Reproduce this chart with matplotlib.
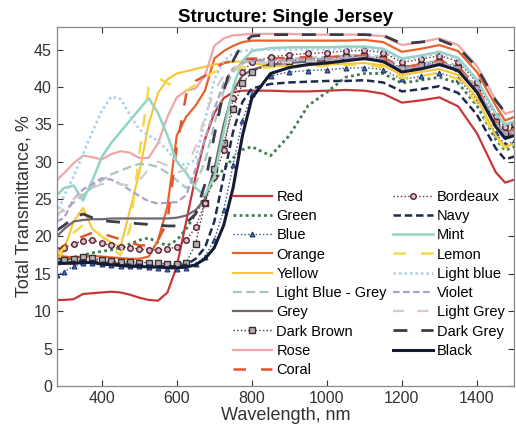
import matplotlib
matplotlib.use('Agg')
from matplotlib import pyplot as plt

plt.rcParams['font.family'] = ['Liberation Sans', 'DejaVu Sans']

# wavelength grid (nm) the curves were read at
wavelength = [280, 300, 325, 350, 375, 400, 425, 450, 475, 500, 525, 550, 575, 600,
              625, 650, 675, 700, 725, 750, 775, 800, 850, 900, 950, 1000, 1050,
              1100, 1150, 1200, 1250, 1300, 1350, 1400, 1450, 1475, 1500]

red = [11.5, 11.5, 11.6, 12.3, 12.4, 12.5, 12.6, 12.5, 12.2, 11.8, 11.5, 11.4, 12.5, 16.0,
       22.0, 28.0, 33.0, 36.5, 38.5, 39.3, 39.5, 39.5, 39.5, 39.4, 39.4, 39.5, 39.6,
       39.5, 39.1, 37.9, 38.2, 38.6, 37.4, 33.8, 28.6, 27.2, 27.6]
green = [16.5, 16.8, 17.2, 17.5, 17.8, 18.0, 18.2, 18.5, 19.0, 19.5, 19.8, 19.2, 18.8, 19.5,
         21.0, 23.0, 25.5, 27.5, 29.0, 30.5, 31.6, 32.0, 30.8, 33.5, 37.5, 39.3, 41.3,
         41.8, 41.8, 40.5, 40.9, 41.3, 40.5, 37.5, 33.0, 31.5, 32.0]
blue = [14.8, 15.3, 16.0, 16.4, 16.5, 16.3, 16.2, 16.1, 16.0, 16.0, 15.9, 15.8, 15.7, 15.7,
        15.8, 16.3, 17.3, 19.5, 23.5, 29.5, 35.5, 39.0, 41.5, 42.0, 42.2, 42.3, 42.5,
        42.6, 42.3, 41.0, 41.4, 41.9, 41.1, 38.3, 33.8, 32.3, 32.7]
orange = [17.5, 17.3, 17.2, 17.3, 17.4, 17.3, 17.2, 17.1, 17.0, 17.0, 17.3, 19.5, 24.0, 33.5,
          36.0, 37.5, 39.5, 43.8, 44.8, 45.5, 46.0, 46.2, 46.2, 46.2, 46.2, 46.2, 46.2,
          46.3, 46.0, 44.7, 45.1, 45.6, 44.8, 42.0, 37.5, 35.5, 36.0]
yellow = [16.5, 18.3, 22.0, 23.8, 21.0, 20.0, 19.2, 18.6, 23.5, 28.5, 35.0, 39.2, 41.0, 41.8,
          42.1, 42.4, 42.7, 43.0, 43.2, 43.4, 43.4, 43.2, 42.8, 42.8, 42.9, 43.0, 43.1,
          43.2, 42.9, 41.6, 42.0, 42.4, 41.6, 38.5, 33.5, 32.0, 32.4]
light_blue_grey = [23.0, 23.5, 24.5, 25.5, 26.6, 27.5, 28.3, 28.8, 29.3, 29.7, 29.6, 29.3, 28.5,
                   27.5, 26.5, 27.0, 30.0, 35.0, 39.5, 42.0, 43.2, 43.7, 43.5, 43.8, 43.9,
                   44.0, 44.2, 44.3, 44.0, 42.7, 43.1, 43.6, 42.8, 40.0, 35.5, 34.0, 34.4]
grey = [20.0, 21.0, 22.0, 22.2, 22.3, 22.3, 22.4, 22.4, 22.4, 22.4, 22.4, 22.4, 22.4, 22.5,
        22.8, 23.5, 25.0, 29.0, 35.0, 39.5, 41.5, 42.3, 43.0, 43.2, 43.4, 43.5, 43.7,
        43.8, 43.5, 42.2, 42.6, 43.1, 42.3, 39.5, 35.0, 33.5, 33.9]
dark_brown = [16.7, 16.8, 17.0, 17.3, 17.1, 16.8, 16.7, 16.6, 16.6, 16.5, 16.5, 16.4, 16.3,
              16.3, 16.5, 19.0, 24.5, 29.0, 32.5, 37.0, 40.5, 42.0, 43.2, 43.5, 43.7,
              43.8, 44.0, 44.1, 43.8, 42.5, 42.9, 43.4, 42.6, 39.8, 35.3, 33.8, 34.2]
rose = [27.5, 28.5, 29.8, 30.8, 30.6, 30.3, 31.0, 31.4, 31.2, 30.5, 30.5, 32.5, 36.0, 38.6,
        39.5, 39.8, 41.5, 45.5, 46.5, 46.9, 47.0, 47.1, 47.1, 47.1, 47.0, 47.0, 47.0,
        47.0, 46.8, 45.6, 46.0, 46.5, 45.6, 42.8, 38.3, 36.4, 36.8]
coral = [18.0, 18.8, 19.5, 20.0, 20.5, 20.4, 20.0, 19.6, 19.2, 18.8, 18.8, 19.5, 22.0, 32.0,
         39.0, 40.8, 41.5, 42.5, 43.2, 43.5, 43.7, 43.8, 43.8, 43.9, 44.0, 44.0, 44.1,
         44.2, 43.9, 42.6, 43.0, 43.5, 42.7, 39.9, 35.4, 33.9, 34.3]
bordeaux = [18.2, 18.5, 19.0, 19.4, 19.5, 19.1, 18.8, 18.6, 18.5, 18.3, 18.2, 18.2, 18.3,
            18.6, 19.5, 21.2, 24.5, 28.0, 31.5, 38.5, 42.0, 43.3, 44.0, 44.3, 44.5,
            44.6, 44.8, 44.9, 44.6, 43.3, 43.7, 44.2, 43.4, 40.6, 36.1, 34.6, 35.0]
navy = [16.3, 16.4, 16.6, 16.8, 16.7, 16.5, 16.4, 16.3, 16.2, 16.2, 16.1, 16.0, 16.0, 16.0,
        16.2, 17.0, 18.5, 22.0, 28.0, 34.0, 38.0, 39.8, 40.4, 40.6, 40.7, 40.8, 40.8,
        40.9, 40.6, 39.4, 39.7, 40.1, 39.2, 36.3, 31.8, 30.3, 30.7]
mint = [25.5, 26.5, 26.8, 24.8, 27.5, 30.6, 32.5, 34.0, 35.5, 37.0, 38.5, 36.5, 33.5, 30.0,
        28.5, 26.5, 25.5, 28.0, 34.0, 40.0, 43.5, 44.8, 45.2, 45.3, 45.3, 45.3, 45.4,
        45.4, 45.1, 43.8, 44.2, 44.7, 43.9, 41.0, 36.5, 35.0, 35.4]
lemon = [17.5, 18.5, 20.5, 21.5, 21.0, 20.0, 18.5, 17.5, 21.0, 31.0, 40.0, 41.2, 40.5, 40.0,
         39.5, 40.3, 41.3, 42.0, 42.3, 42.5, 42.6, 42.6, 42.6, 42.7, 42.8, 42.8, 42.9,
         43.0, 42.6, 41.2, 41.5, 41.9, 41.0, 37.8, 33.2, 31.8, 32.2]
light_blue = [23.0, 25.5, 28.0, 31.0, 34.0, 36.8, 38.7, 38.4, 36.3, 34.3, 33.5, 32.8, 31.5,
              30.0, 29.5, 30.3, 35.5, 41.0, 43.5, 44.5, 44.8, 45.0, 45.0, 45.0, 45.0,
              45.0, 45.1, 45.2, 44.9, 43.6, 44.0, 44.5, 43.7, 40.8, 36.3, 34.8, 35.2]
violet = [22.0, 22.5, 25.0, 26.3, 27.0, 27.8, 27.6, 27.0, 26.2, 25.4, 24.7, 24.4, 24.5, 24.6,
          25.5, 29.0, 33.0, 37.0, 40.5, 42.5, 43.2, 43.5, 43.4, 43.6, 43.7, 43.8, 43.9,
          44.0, 43.7, 42.4, 42.8, 43.3, 42.5, 39.7, 35.2, 33.7, 34.1]
light_grey = [22.5, 24.0, 25.0, 25.8, 26.5, 27.0, 27.2, 27.0, 26.8, 27.5, 29.0, 30.0, 29.5,
              28.5, 29.0, 32.0, 36.0, 39.5, 41.5, 42.5, 43.0, 43.3, 43.2, 43.3, 43.4,
              43.5, 43.6, 43.7, 43.4, 42.1, 42.5, 43.0, 42.2, 39.4, 34.9, 33.4, 33.8]
dark_grey = [20.8, 21.5, 22.5, 23.0, 22.5, 22.1, 22.0, 21.9, 21.8, 21.7, 21.6, 21.5, 21.4,
             21.4, 21.8, 23.0, 27.0, 33.5, 39.5, 43.5, 45.8, 46.8, 47.0, 47.0, 47.0,
             47.0, 47.0, 47.0, 46.9, 45.8, 46.0, 46.3, 45.3, 42.6, 38.2, 36.6, 37.0]
black = [16.5, 16.4, 16.4, 16.5, 16.5, 16.3, 16.2, 16.1, 16.0, 16.0, 15.9, 15.9, 15.8, 15.8,
         15.9, 16.2, 17.0, 18.5, 21.5, 26.5, 33.5, 38.5, 41.8, 42.6, 43.0, 43.2, 43.5,
         43.8, 43.4, 42.0, 42.4, 43.0, 42.2, 39.3, 34.7, 33.1, 33.5]

fig = plt.figure(figsize=(5.16, 4.38), dpi=100)
ax = fig.add_axes([0.110, 0.119, 0.887, 0.819])

ax.plot(wavelength, red, color='#c8373b', lw=1.6, label='Red')
ax.plot(wavelength, green, color='#3e7d4f', lw=2.0, ls=(0, (1, 1.2)), label='Green')
ax.plot(wavelength, blue, color='#2a4a8c', lw=1.0, ls=':', marker='^', ms=3.5,
        mfc='#4f6fb0', mec='#1d3270', mew=0.8, label='Blue')
ax.plot(wavelength, orange, color='#e8632b', lw=1.6, label='Orange')
ax.plot(wavelength, yellow, color='#f8c533', lw=1.5, label='Yellow')
ax.plot(wavelength, light_blue_grey, color='#a6c6c1', lw=1.6, ls=(0, (4, 2)), label='Light Blue - Grey')
ax.plot(wavelength, grey, color='#706770', lw=1.6, label='Grey')
ax.plot(wavelength, dark_brown, color='#3f3535', lw=1.0, ls=':', marker='s', ms=4,
        mfc='#b8b0b0', mec='#3b3030', mew=1.0, label='Dark Brown')
ax.plot(wavelength, rose, color='#eea6a6', lw=1.6, label='Rose')
ax.plot(wavelength, coral, color='#e0572e', lw=1.8, ls=(0, (5, 6)), label='Coral')
ax.plot(wavelength, bordeaux, color='#6a2a3e', lw=1.0, ls=':', marker='o', ms=4,
        mfc='#d9c0c8', mec='#5a2030', mew=1.0, label='Bordeaux')
ax.plot(wavelength, navy, color='#1e2b50', lw=1.8, ls=(0, (3, 1.5)), label='Navy')
ax.plot(wavelength, mint, color='#92d4c2', lw=1.8, label='Mint')
ax.plot(wavelength, lemon, color='#f5d94a', lw=1.8, ls=(0, (5, 6)), label='Lemon')
ax.plot(wavelength, light_blue, color='#a8cfe8', lw=1.8, ls=(0, (1, 1.2)), label='Light blue')
ax.plot(wavelength, violet, color='#b0a0c8', lw=1.6, ls=(0, (3, 1.5)), label='Violet')
ax.plot(wavelength, light_grey, color='#d6caca', lw=1.6, ls=(0, (5, 6)), label='Light Grey')
ax.plot(wavelength, dark_grey, color='#3b3b4a', lw=2.0, ls=(0, (5, 5)), label='Dark Grey')
ax.plot(wavelength, black, color='#151c30', lw=2.2, label='Black')

ax.set_xlim(280, 1500)
ax.set_ylim(0, 48)
ax.set_xticks([400, 600, 800, 1000, 1200, 1400])
ax.set_yticks(range(0, 46, 5))
ax.tick_params(direction='in', top=True, right=True, labelsize=11.5,
               colors='#333333', length=4, width=0.8)
for s in ax.spines.values():
    s.set_color('#888888')
    s.set_linewidth(0.9)

ax.set_title('Structure: Single Jersey', fontsize=13.5, fontweight='bold', pad=4)
ax.set_xlabel('Wavelength, nm', fontsize=13, color='#333333', labelpad=1)
ax.set_ylabel('Total Transmittance, %', fontsize=13, color='#333333', labelpad=1)

ax.legend(ncol=2, loc='upper left', bbox_to_anchor=(0.362, 0.575), frameon=False,
          fontsize=10.5, handlelength=2.7, handletextpad=0.3, columnspacing=0.45,
          labelspacing=0.36, borderpad=0.2)

fig.savefig('out.png', dpi=100)
